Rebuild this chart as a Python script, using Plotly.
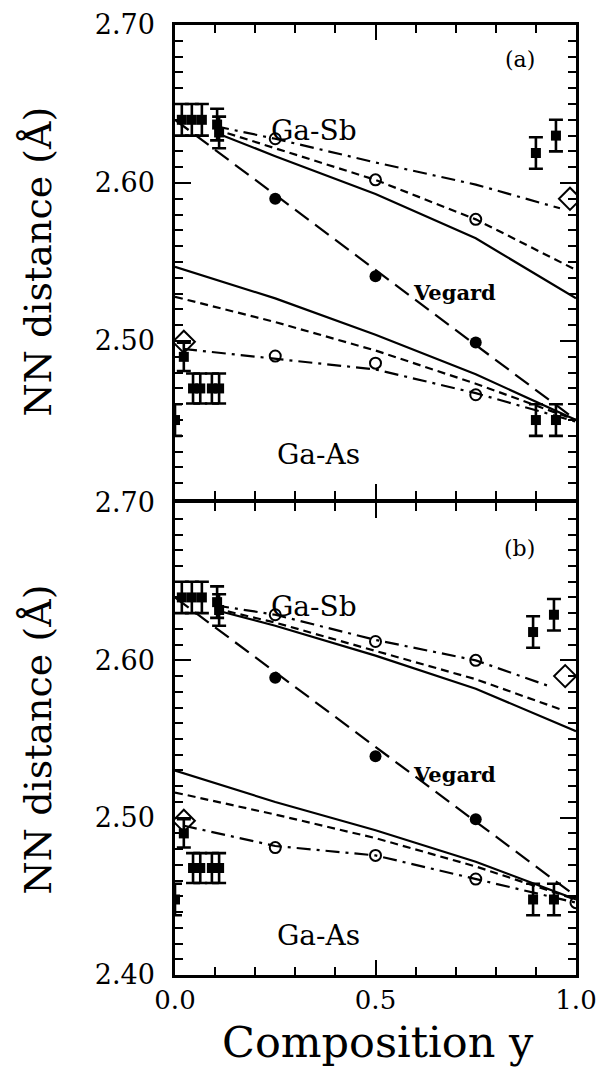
import plotly.graph_objects as go

# ---------------- data: panel (a) ----------------
a_sb_solid_x = [0.1, 0.25, 0.5, 0.75, 1.0]
a_sb_solid_y = [2.632, 2.617, 2.593, 2.565, 2.527]
a_sb_dash_x = [0.1, 0.25, 0.5, 0.75, 1.0]
a_sb_dash_y = [2.634, 2.622, 2.602, 2.577, 2.545]
a_sb_dd_x = [0.1, 0.25, 0.5, 0.75, 0.96]
a_sb_dd_y = [2.636, 2.628, 2.613, 2.599, 2.584]
a_as_solid_x = [0.0, 0.25, 0.5, 0.75, 1.0]
a_as_solid_y = [2.547, 2.527, 2.504, 2.479, 2.450]
a_as_dash_x = [0.0, 0.25, 0.5, 0.75, 1.0]
a_as_dash_y = [2.528, 2.512, 2.494, 2.473, 2.450]
a_as_dd_x = [0.02, 0.25, 0.5, 0.75, 1.0]
a_as_dd_y = [2.495, 2.489, 2.482, 2.467, 2.449]
a_vegard_x = [0.0, 1.0]
a_vegard_y = [2.640, 2.450]
a_vegpts_x = [0.25, 0.5, 0.75]
a_vegpts_y = [2.590, 2.541, 2.499]
a_open_x = [0.25, 0.5, 0.75, 0.25, 0.5, 0.75]
a_open_y = [2.628, 2.602, 2.577, 2.4905, 2.486, 2.466]
a_exp_x = [0.017, 0.042, 0.067, 0.105, 0.11, 0.0, 0.022, 0.045, 0.063, 0.092, 0.11, 0.9, 0.95, 0.9, 0.95]
a_exp_y = [2.640, 2.640, 2.640, 2.637, 2.632, 2.450, 2.490, 2.470, 2.470, 2.470, 2.470, 2.619, 2.630, 2.450, 2.450]
a_exp_err = [0.010, 0.010, 0.010, 0.010, 0.010, 0.010, 0.009, 0.0095, 0.0095, 0.0095, 0.0095, 0.010, 0.010, 0.010, 0.010]
a_diam_x = [0.985, 0.022]
a_diam_y = [2.590, 2.4995]

# ---------------- data: panel (b) ----------------
b_sb_solid_x = [0.1, 0.25, 0.5, 0.75, 1.0]
b_sb_solid_y = [2.632, 2.622, 2.603, 2.582, 2.555]
b_sb_dash_x = [0.1, 0.25, 0.5, 0.75, 0.96]
b_sb_dash_y = [2.633, 2.624, 2.606, 2.588, 2.569]
b_sb_dd_x = [0.1, 0.25, 0.5, 0.75, 0.94]
b_sb_dd_y = [2.635, 2.629, 2.613, 2.600, 2.583]
b_as_solid_x = [0.0, 0.25, 0.5, 0.75, 1.0]
b_as_solid_y = [2.530, 2.510, 2.492, 2.472, 2.448]
b_as_dash_x = [0.0, 0.25, 0.5, 0.75, 1.0]
b_as_dash_y = [2.516, 2.502, 2.487, 2.469, 2.448]
b_as_dd_x = [0.02, 0.25, 0.5, 0.75, 1.0]
b_as_dd_y = [2.495, 2.482, 2.476, 2.461, 2.446]
b_vegard_x = [0.0, 1.0]
b_vegard_y = [2.640, 2.450]
b_vegpts_x = [0.25, 0.5, 0.75]
b_vegpts_y = [2.589, 2.539, 2.499]
b_open_x = [0.25, 0.5, 0.75, 0.25, 0.5, 0.75, 1.0]
b_open_y = [2.629, 2.612, 2.600, 2.481, 2.476, 2.461, 2.446]
b_exp_x = [0.017, 0.042, 0.067, 0.105, 0.11, 0.0, 0.022, 0.045, 0.063, 0.092, 0.11, 0.893, 0.945, 0.893, 0.945]
b_exp_y = [2.640, 2.640, 2.640, 2.637, 2.632, 2.448, 2.490, 2.468, 2.468, 2.468, 2.468, 2.618, 2.629, 2.448, 2.448]
b_exp_err = [0.010, 0.010, 0.010, 0.010, 0.010, 0.010, 0.009, 0.0095, 0.0095, 0.0095, 0.0095, 0.010, 0.010, 0.010, 0.010]
b_diam_x = [0.973, 0.022]
b_diam_y = [2.590, 2.498]

# tick labels
x_tickvals = [0.0, 0.5, 1.0]
x_ticktext = ["0.0", "0.5", "1.0"]
y_major_vals = [2.40, 2.45, 2.50, 2.55, 2.60, 2.65, 2.70]
y_top_text = ["", "", "2.50", "", "2.60", "", "2.70"]
y_bot_text = ["2.40", "", "2.50", "", "2.60", "", "2.70"]
y_minor_vals = [round(2.40 + 0.01 * i, 2) for i in range(31)]
x_minor_vals = [round(0.1 * i, 1) for i in range(11)]

FONT = "DejaVu Serif"
LW = 2.2
SOLID = "solid"
DASH = "8px,5px"
DASHDOT = "14px,6px,3px,6px"
VEG = "17px,8px"

fig = go.Figure()


def add_panel(xa, ya, lines, vegx, vegy, vpx, vpy, ox, oy, ex, ey, eerr, dx, dy):
    for (lx, ly, dash) in lines:
        fig.add_trace(go.Scatter(x=lx, y=ly, mode="lines", xaxis=xa, yaxis=ya,
                                 line=dict(color="black", width=LW, dash=dash),
                                 showlegend=False, hoverinfo="skip"))
    fig.add_trace(go.Scatter(x=vegx, y=vegy, mode="lines", xaxis=xa, yaxis=ya,
                             line=dict(color="black", width=LW, dash=VEG),
                             showlegend=False))
    fig.add_trace(go.Scatter(x=vpx, y=vpy, mode="markers", xaxis=xa, yaxis=ya,
                             marker=dict(symbol="circle", size=12, color="black"),
                             showlegend=False))
    fig.add_trace(go.Scatter(x=ox, y=oy, mode="markers", xaxis=xa, yaxis=ya,
                             marker=dict(symbol="circle-open", size=11, color="black",
                                         line=dict(width=2, color="black")),
                             showlegend=False))
    fig.add_trace(go.Scatter(x=ex, y=ey, mode="markers", xaxis=xa, yaxis=ya,
                             marker=dict(symbol="square", size=10, color="black"),
                             error_y=dict(type="data", array=eerr, color="black",
                                          thickness=2.6, width=7),
                             showlegend=False))
    fig.add_trace(go.Scatter(x=dx, y=dy, mode="markers", xaxis=xa, yaxis=ya,
                             marker=dict(symbol="diamond-open", size=17, color="black",
                                         line=dict(width=2, color="black")),
                             showlegend=False))


add_panel("x", "y",
          [(a_sb_solid_x, a_sb_solid_y, SOLID), (a_sb_dash_x, a_sb_dash_y, DASH),
           (a_sb_dd_x, a_sb_dd_y, DASHDOT), (a_as_solid_x, a_as_solid_y, SOLID),
           (a_as_dash_x, a_as_dash_y, DASH), (a_as_dd_x, a_as_dd_y, DASHDOT)],
          a_vegard_x, a_vegard_y, a_vegpts_x, a_vegpts_y, a_open_x, a_open_y,
          a_exp_x, a_exp_y, a_exp_err, a_diam_x, a_diam_y)
add_panel("x2", "y2",
          [(b_sb_solid_x, b_sb_solid_y, SOLID), (b_sb_dash_x, b_sb_dash_y, DASH),
           (b_sb_dd_x, b_sb_dd_y, DASHDOT), (b_as_solid_x, b_as_solid_y, SOLID),
           (b_as_dash_x, b_as_dash_y, DASH), (b_as_dd_x, b_as_dd_y, DASHDOT)],
          b_vegard_x, b_vegard_y, b_vegpts_x, b_vegpts_y, b_open_x, b_open_y,
          b_exp_x, b_exp_y, b_exp_err, b_diam_x, b_diam_y)

common_x = dict(range=[0, 1], showline=True, linecolor="black", linewidth=2.5,
                mirror="ticks", ticks="inside", ticklen=15, tickwidth=2, tickcolor="black",
                tickmode="array", tickvals=x_tickvals, showgrid=False, zeroline=False,
                automargin=False,
                minor=dict(tickmode="array", tickvals=x_minor_vals, ticks="inside",
                           ticklen=8, tickwidth=2, tickcolor="black", showgrid=False),
                tickfont=dict(family=FONT, size=26, color="black"))
common_y = dict(range=[2.40, 2.70], showline=True, linecolor="black", linewidth=2.5,
                mirror="ticks", ticks="inside", ticklen=16, tickwidth=2, tickcolor="black",
                tickmode="array", tickvals=y_major_vals, showgrid=False, zeroline=False,
                automargin=False,
                minor=dict(tickmode="array", tickvals=y_minor_vals, ticks="inside",
                           ticklen=8, tickwidth=2, tickcolor="black", showgrid=False),
                tickfont=dict(family=FONT, size=27, color="black"), ticklabelstandoff=12)

fig.update_layout(
    width=597, height=1068,
    margin=dict(l=175, r=21, t=25, b=93, autoexpand=False),
    plot_bgcolor="white", paper_bgcolor="white",
    showlegend=False,
    xaxis=dict(common_x, domain=[0, 1], anchor="y", showticklabels=False),
    yaxis=dict(common_y, domain=[0.501, 1.0], anchor="x", ticktext=y_top_text),
    xaxis2=dict(common_x, domain=[0, 1], anchor="y2", ticktext=x_ticktext,
                ticklabeloverflow="allow"),
    yaxis2=dict(common_y, domain=[0.0, 0.4968], anchor="x2", ticktext=y_bot_text),
)

ann = []
for xr, yr, items in [
    ("x", "y", [(0.86, 2.678, "(a)", 22, False), (0.347, 2.6335, "Ga-Sb", 28, False),
                (0.698, 2.531, "Vegard", 21, True), (0.357, 2.428, "Ga-As", 28, False)]),
    ("x2", "y2", [(0.86, 2.671, "(b)", 22, False), (0.347, 2.634, "Ga-Sb", 28, False),
                  (0.698, 2.5275, "Vegard", 21, True), (0.357, 2.425, "Ga-As", 28, False)]),
]:
    for (tx, ty, txt, sz, bold) in items:
        ann.append(dict(x=tx, y=ty, xref=xr, yref=yr, text=("<b>%s</b>" % txt) if bold else txt,
                        showarrow=False, xanchor="center", yanchor="middle",
                        font=dict(family=FONT, size=sz, color="black")))

# axis titles
ann.append(dict(x=-0.3416, y=0.751, xref="paper", yref="paper", text="NN distance (Å)",
                textangle=-90, showarrow=False, xanchor="center", yanchor="middle",
                font=dict(family=FONT, size=38, color="black")))
ann.append(dict(x=-0.3416, y=0.248, xref="paper", yref="paper", text="NN distance (Å)",
                textangle=-90, showarrow=False, xanchor="center", yanchor="middle",
                font=dict(family=FONT, size=38, color="black")))
ann.append(dict(x=0.505, y=-0.071, xref="paper", yref="paper", text="Composition y",
                showarrow=False, xanchor="center", yanchor="middle",
                font=dict(family=FONT, size=43, color="black")))
fig.update_layout(annotations=ann)

fig.write_html("out.html")
